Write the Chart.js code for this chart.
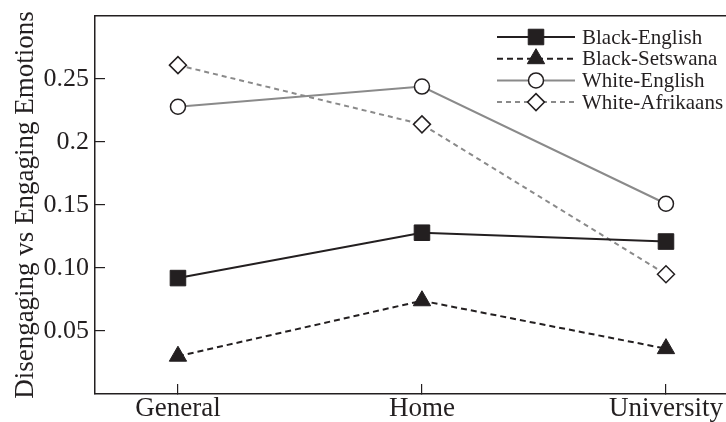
<!DOCTYPE html>
<html><head><meta charset="utf-8">
<script src="https://cdn.jsdelivr.net/npm/chart.js@4/dist/chart.umd.min.js"></script>
<style>html,body{margin:0;padding:0;background:#fff;overflow:hidden}#wrap{width:726px;height:422px;position:relative}</style>
</head><body><div id="wrap"><canvas id="c" width="726" height="422"></canvas></div>
<script>
const categories = ['General', 'Home', 'University'];
const seriesNames = ['Black-English', 'Black-Setswana', 'White-English', 'White-Afrikaans'];
const blackEnglish = [0.092, 0.128, 0.121];
const blackSetswana = [0.030, 0.074, 0.036];
const whiteEnglish = [0.228, 0.244, 0.151];
const whiteAfrikaans = [0.261, 0.214, 0.095];
const yTickValues = [0.05, 0.10, 0.15, 0.20, 0.25];
const yTickLabels = ['0.05', '0.10', '0.15', '0.2', '0.25'];
const xTickValues = [0, 1, 2];

const INK = '#231f20';
const GRAY = '#8a8a8a';
const FONT = '"Liberation Serif", "Times New Roman", serif';

function pts(arr) { return arr.map((v, i) => ({x: i, y: v})); }

const datasets = [
  {label: seriesNames[0], data: pts(blackEnglish), borderColor: INK, borderWidth: 2, borderDash: [],
   pointStyle: 'rect', pointRadius: 11, pointBackgroundColor: INK, pointBorderColor: INK, pointBorderWidth: 1},
  {label: seriesNames[1], data: pts(blackSetswana), borderColor: INK, borderWidth: 2, borderDash: [6, 4],
   pointStyle: 'triangle', pointRadius: 10, pointBackgroundColor: INK, pointBorderColor: INK, pointBorderWidth: 1},
  {label: seriesNames[2], data: pts(whiteEnglish), borderColor: GRAY, borderWidth: 2, borderDash: [],
   pointStyle: 'circle', pointRadius: 7.5, pointBackgroundColor: '#fff', pointBorderColor: INK, pointBorderWidth: 1.5},
  {label: seriesNames[3], data: pts(whiteAfrikaans), borderColor: GRAY, borderWidth: 2, borderDash: [5, 4],
   pointStyle: 'rectRot', pointRadius: 8.5, pointBackgroundColor: '#fff', pointBorderColor: INK, pointBorderWidth: 1.5}
];
datasets.forEach(d => { d.fill = false; d.tension = 0; d.pointHoverRadius = d.pointRadius; d.clip = false; });

const lineLegend = {
  id: 'lineLegend',
  afterDatasetsDraw(chart) {
    const ctx = chart.ctx;
    chart.data.datasets.forEach((ds, i) => {
      const y = 37 + i * 21.7;
      ctx.save();
      ctx.strokeStyle = ds.borderColor;
      ctx.lineWidth = ds.borderWidth;
      ctx.setLineDash(ds.borderDash);
      ctx.beginPath(); ctx.moveTo(497, y); ctx.lineTo(575, y); ctx.stroke();
      ctx.setLineDash([]);
      ctx.fillStyle = ds.pointBackgroundColor;
      ctx.strokeStyle = ds.pointBorderColor;
      ctx.lineWidth = ds.pointBorderWidth;
      Chart.helpers.drawPoint(ctx, {pointStyle: ds.pointStyle, radius: ds.pointRadius, borderWidth: ds.pointBorderWidth, rotation: 0}, 536, y);
      ctx.fillStyle = INK;
      ctx.font = '21px ' + FONT;
      ctx.textBaseline = 'middle';
      ctx.textAlign = 'left';
      ctx.fillText(ds.label, 582, y + 1);
      ctx.restore();
    });
  }
};

new Chart(document.getElementById('c'), {
  type: 'line',
  data: {datasets},
  options: {
    responsive: false,
    animation: false,
    devicePixelRatio: 1,
    layout: {autoPadding: false, padding: {left: 0, right: 0, top: 0, bottom: 0}},
    plugins: {legend: {display: false}, tooltip: {enabled: false}},
    scales: {
      x: {
        type: 'linear', position: 'bottom', min: -0.34, max: 2.246,
        afterBuildTicks: s => { s.ticks = xTickValues.map(v => ({value: v})); },
        afterFit: s => { s.height = 28; s.paddingLeft = 0; s.paddingRight = 0; },
        ticks: {callback: (v, i) => categories[i], color: INK, font: {family: FONT, size: 27}, padding: 9, maxRotation: 0, autoSkip: false},
        grid: {display: true, drawOnChartArea: false, tickLength: -10, color: INK, lineWidth: 1.2},
        border: {display: true, color: INK, width: 1.5}
      },
      x2: {
        type: 'linear', position: 'top', min: -0.34, max: 2.246,
        afterFit: s => { s.height = 16; s.paddingLeft = 0; s.paddingRight = 0; },
        ticks: {display: false},
        grid: {display: false},
        border: {display: true, color: INK, width: 1.5}
      },
      y: {
        type: 'linear', min: 0, max: 0.3,
        afterBuildTicks: s => { s.ticks = yTickValues.map(v => ({value: v})); },
        afterFit: s => { s.width = 95; s.paddingTop = 0; s.paddingBottom = 0; },
        ticks: {callback: (v, i) => yTickLabels[i], color: INK, font: {family: FONT, size: 26}, padding: 16},
        grid: {display: true, drawOnChartArea: false, tickLength: -10, color: INK, lineWidth: 1.2},
        border: {display: true, color: INK, width: 1.5},
        title: {display: true, text: 'Disengaging vs Engaging Emotions', color: INK, font: {family: FONT, size: 27}, padding: {top: 10, bottom: 0}}
      }
    }
  },
  plugins: [lineLegend]
});
</script>
</body></html>
